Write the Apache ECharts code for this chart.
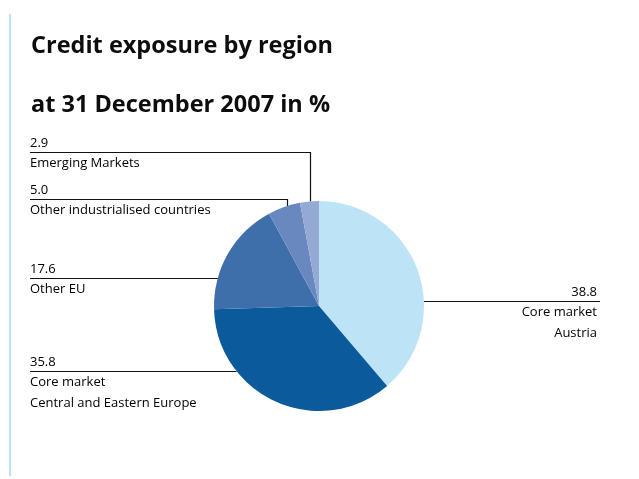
<!DOCTYPE html>
<html><head><meta charset="utf-8">
<script src="https://cdn.jsdelivr.net/npm/echarts@6/dist/echarts.min.js"></script>
<style>html,body{margin:0;padding:0;background:#fff}#c{width:639px;height:479px}</style>
</head><body><div id="c"></div>
<script>
const categories = ['Core market\nAustria', 'Core market\nCentral and Eastern Europe', 'Other EU', 'Other industrialised countries', 'Emerging Markets'];
const values = [38.8, 35.8, 17.6, 5.0, 2.9];
const colors = ['#bde3f7', '#0a5a9c', '#3e6fab', '#6888bf', '#94a9d3'];

const titleLine1 = 'Credit exposure by region';
const titleLine2 = 'at 31 December 2007 in %';

// pie geometry (layout)
const CX = 319, CY = 306, R = 105;
// leader line layout per slice: horizontal line y, label side
const leader = [
  {y: 301, side: 'right', x0: 600},
  {y: 371, side: 'left', x0: 30},
  {y: 278, side: 'left', x0: 30},
  {y: 199, side: 'left', x0: 30, vx: 287},
  {y: 152, side: 'left', x0: 30, vx: 310}
];

const font = '"Open Sans", sans-serif';
const chart = echarts.init(document.getElementById('c'), null, {renderer: 'canvas'});
chart.setOption({
  animation: false,
  backgroundColor: '#fff',
  title: {
    text: titleLine1 + '\n' + titleLine2,
    left: 26, top: 12,
    textStyle: {fontFamily: font, fontWeight: 'bold', fontSize: 23.5, color: '#0d0d0d', lineHeight: 59}
  },
  graphic: [{
    type: 'line', shape: {x1: 10, y1: 14, x2: 10, y2: 476},
    style: {stroke: '#bde3f7', lineWidth: 2}
  }],
  series: [{
    type: 'pie',
    center: [CX, CY],
    radius: [0, R],
    startAngle: 90,
    clockwise: true,
    silent: true,
    data: categories.map((c, i) => ({name: c, value: values[i], itemStyle: {color: colors[i]}})),
    label: {
      show: true,
      position: 'outer',
      formatter: p => '{v|' + p.value.toFixed(1) + '}\n{n|' + p.name.split('\n').join('}\n{n|') + '}',
      rich: {
        v: {fontFamily: font, fontSize: 13, color: '#000', lineHeight: 20},
        n: {fontFamily: font, fontSize: 13, color: '#000', lineHeight: 21}
      }
    },
    labelLine: {show: true, lineStyle: {color: '#111', width: 1.2}},
    labelLayout: function (params) {
      const L = leader[params.dataIndex];
      const ly = L.y + 0.5;
      let pts;
      if (L.vx !== undefined) {
        const dx = L.vx - CX;
        const ey = CY - Math.sqrt(R * R - dx * dx);
        const lx = L.vx + 0.5;
        pts = [[lx, ey], [lx, ly], [L.x0, ly]];
      } else {
        const dy = L.y - CY;
        const dx = Math.sqrt(R * R - dy * dy);
        const ex = L.side === 'left' ? CX - dx : CX + dx;
        pts = [[ex, ly], [ex, ly], [L.x0, ly]];
      }
      return {
        x: L.side === 'left' ? L.x0 : L.x0 - 3,
        y: L.y - 19,
        align: L.side === 'left' ? 'left' : 'right',
        verticalAlign: 'top',
        labelLinePoints: pts
      };
    }
  }]
});
</script></body></html>
